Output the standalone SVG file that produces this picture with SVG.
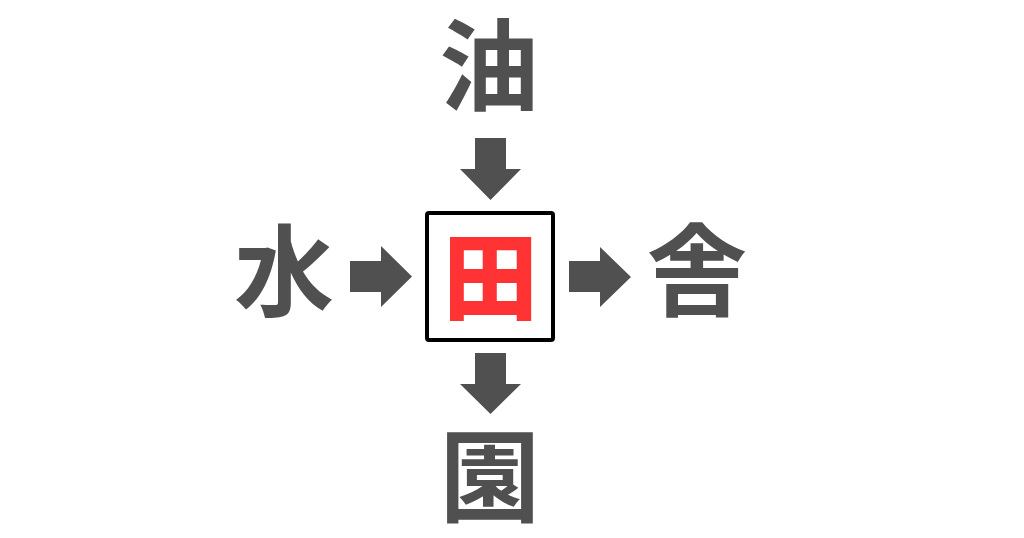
<svg xmlns="http://www.w3.org/2000/svg" width="1024" height="538" viewBox="0 0 1024 538">
<style>
.ch{font-family:"Noto Sans CJK JP","Noto Sans CJK SC",sans-serif;font-weight:700;font-size:100px;fill:#505050;text-anchor:middle}
.ar{fill:#505050}
</style>
<rect width="1024" height="538" fill="#ffffff"/>
<g id="node-top"><text class="ch" x="489" y="103">油</text></g>
<g id="node-left"><text class="ch" x="284" y="309">水</text></g>
<g id="node-right"><text class="ch" x="697" y="308">舎</text></g>
<g id="node-bottom"><text class="ch" x="490" y="514">園</text></g>
<g id="node-center">
<rect x="427" y="213" width="126" height="127" rx="2" fill="#ffffff" stroke="#000000" stroke-width="4"/>
<text x="490.5" y="313" text-anchor="middle" style="font-family:'Noto Sans CJK JP','Noto Sans CJK SC',sans-serif;font-weight:900;font-size:95px;fill:#ff3333">田</text>
</g>
<g id="connectors">
<polygon class="ar" points="475,138 506,138 506,169 521,169 490.5,200 460,169 475,169"/>
<polygon class="ar" points="350,261 381,261 381,246 412,276.5 381,307 381,292 350,292"/>
<polygon class="ar" points="569,261 600,261 600,247 631,277 600,307 600,292 569,292"/>
<polygon class="ar" points="475,353 506,353 506,384 521,384 490.5,414 460,384 475,384"/>
</g>
</svg>
